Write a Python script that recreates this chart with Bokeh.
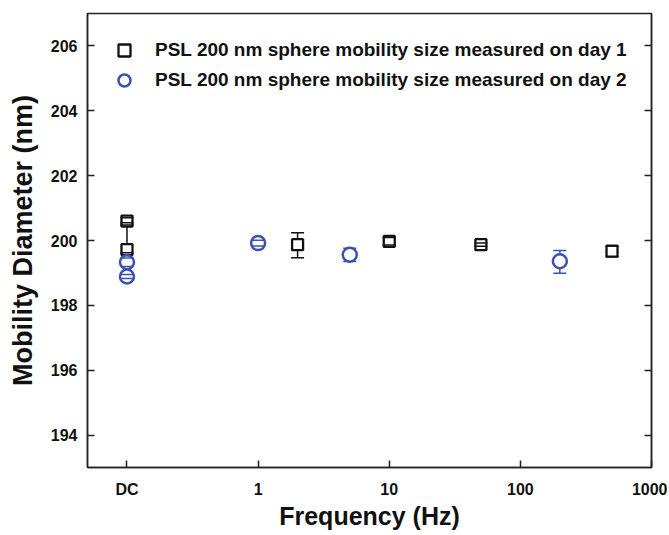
from bokeh.plotting import figure
from bokeh.models import FixedTicker, LinearAxis, CustomJSTickFormatter, Legend, LegendItem
from bokeh.embed import file_html
from bokeh.resources import INLINE

# ---- data (DC plotted at 0.1 Hz position) ----
tick_values = [0.1, 1, 10, 100, 1000]
tick_labels = ["DC", "1", "10", "100", "1000"]
y_ticks = [194, 196, 198, 200, 202, 204, 206]

day1_freq = [0.1, 0.1, 2, 10, 50, 500]
day1_size = [200.60, 199.72, 199.87, 199.97, 199.87, 199.67]
day1_upper = [200.70, 200.55, 200.24, 200.09, 199.92, 199.83]
day1_lower = [200.48, 199.62, 199.47, 199.86, 199.82, 199.50]

day2_freq = [0.1, 0.1, 1, 5, 200]
day2_size = [199.33, 198.89, 199.92, 199.56, 199.36]
day2_upper = [199.46, 198.95, 200.01, 199.76, 199.69]
day2_lower = [199.20, 198.83, 199.83, 199.35, 198.99]

label1 = "PSL 200 nm sphere mobility size measured on day 1"
label2 = "PSL 200 nm sphere mobility size measured on day 2"

BLACK = "#111111"
BLUE = "#3a52b4"
FONT = "Liberation Sans"

p = figure(width=667, height=533, x_axis_type="log", x_range=(0.05, 1000), y_range=(193, 207),
           output_backend="svg", toolbar_location=None,
           min_border_left=87, min_border_right=16, min_border_top=13, min_border_bottom=66)
p.grid.visible = False
p.outline_line_color = "#222222"
p.outline_line_width = 1.5
p.background_fill_color = "white"
p.border_fill_color = "white"

# axes
xa = p.xaxis[0]
xa.ticker = FixedTicker(ticks=tick_values, minor_ticks=[])
xa.major_label_overrides = {v: l for v, l in zip(tick_values, tick_labels)}
ya = p.yaxis[0]
ya.ticker = FixedTicker(ticks=y_ticks, minor_ticks=[])
for ax in (xa, ya):
    ax.major_tick_in = 7
    ax.major_tick_out = 0
    ax.minor_tick_in = 0
    ax.minor_tick_out = 0
    ax.axis_line_color = "#222222"
    ax.axis_line_width = 1.5
    ax.major_tick_line_color = "#222222"
    ax.major_tick_line_width = 1.5
    ax.major_label_text_font = FONT
    ax.major_label_text_font_style = "bold"
    ax.major_label_text_font_size = "16px"
    ax.major_label_text_color = "#111111"
    ax.axis_label_text_font = FONT
    ax.axis_label_text_font_style = "bold"
    ax.axis_label_text_color = "#111111"
xa.axis_label_text_font_size = "25px"
ya.axis_label_text_font_size = "27px"
xa.axis_label = "Frequency (Hz)"
ya.axis_label = "Mobility Diameter (nm)"
xa.major_label_standoff = 13
xa.axis_label_standoff = 1
ya.major_label_standoff = 10
ya.axis_label_standoff = 10

ra = LinearAxis(ticker=FixedTicker(ticks=y_ticks, minor_ticks=[]),
                formatter=CustomJSTickFormatter(code="return ''"))
ra.major_tick_in = 7
ra.major_tick_out = 0
ra.minor_tick_in = 0
ra.minor_tick_out = 0
ra.axis_line_color = "#222222"
ra.axis_line_width = 1.5
ra.major_tick_line_color = "#222222"
ra.major_tick_line_width = 1.5
ra.major_label_standoff = 0
ra.major_label_text_font_size = "1px"
p.add_layout(ra, "right")

# error bar stems
p.segment(day1_freq, day1_lower, day1_freq, day1_upper, line_color=BLACK, line_width=1.5)
p.segment(day2_freq, day2_lower, day2_freq, day2_upper, line_color=BLUE, line_width=1.5)

# markers
r1 = p.scatter(day1_freq, day1_size, marker="square", size=11, line_color=BLACK, line_width=2.3,
               fill_color="white")
r2 = p.scatter(day2_freq, day2_size, marker="circle", size=14, line_color=BLUE, line_width=2.5,
               fill_color="white")

# caps
for xs, ys, c in ((day1_freq, day1_upper, BLACK), (day1_freq, day1_lower, BLACK),
                  (day2_freq, day2_upper, BLUE), (day2_freq, day2_lower, BLUE)):
    p.scatter(xs, ys, marker="dash", size=13, line_color=c, line_width=1.5)

legend = Legend(items=[LegendItem(label=label1, renderers=[r1]),
                       LegendItem(label=label2, renderers=[r2])],
                location="top_left")
legend.margin = 22
legend.padding = 0
legend.spacing = -7
legend.glyph_width = 30
legend.glyph_height = 30
legend.label_height = 20
legend.label_standoff = 16
legend.label_text_font = FONT
legend.label_text_font_style = "bold"
legend.label_text_font_size = "19px"
legend.label_text_color = "#111111"
legend.border_line_color = None
legend.background_fill_alpha = 0
p.add_layout(legend)

open("out.html", "w").write(file_html(p, INLINE))
